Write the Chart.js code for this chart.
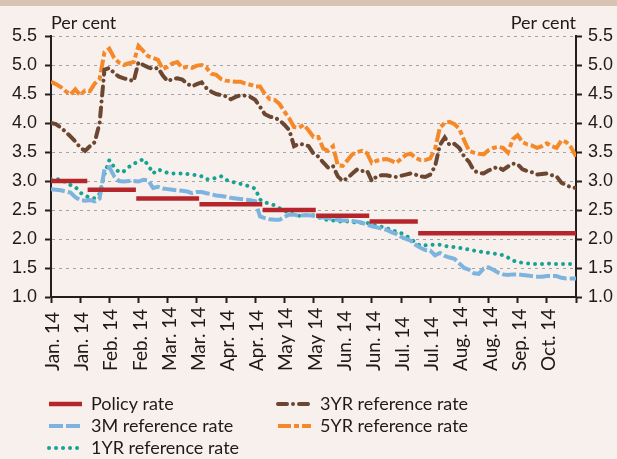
<!DOCTYPE html>
<html>
<head>
<meta charset="utf-8">
<script src="https://cdn.jsdelivr.net/npm/chart.js@4/dist/chart.umd.min.js"></script>
<style>
  html, body { margin: 0; padding: 0; background: #f7f0ec; }
  canvas { display: block; }
</style>
</head>
<body>
<canvas id="myChart" width="617" height="459"></canvas>
<script>
// six points per labelled interval, 19 tick marks
const tickLabels = ['Jan. 14', 'Jan. 14', 'Feb. 14', 'Feb. 14', 'Mar. 14', 'Mar. 14', 'Apr. 14', 'Apr. 14',
  'May 14', 'May 14', 'Jun. 14', 'Jun. 14', 'Jul. 14', 'Jul. 14', 'Aug. 14', 'Aug. 14', 'Sep. 14', 'Oct. 14'];

const policyRate = [
  3.00, 3.00, 3.00, 3.00, 3.00, 3.00, 3.00, 3.00,
  2.85, 2.85, 2.85, 2.85, 2.85, 2.85, 2.85, 2.85, 2.85, 2.85,
  2.70, 2.70, 2.70, 2.70, 2.70, 2.70, 2.70, 2.70, 2.70, 2.70, 2.70, 2.70, 2.70,
  2.60, 2.60, 2.60, 2.60, 2.60, 2.60, 2.60, 2.60, 2.60, 2.60, 2.60, 2.60, 2.60,
  2.50, 2.50, 2.50, 2.50, 2.50, 2.50, 2.50, 2.50, 2.50, 2.50, 2.50,
  2.40, 2.40, 2.40, 2.40, 2.40, 2.40, 2.40, 2.40, 2.40, 2.40, 2.40,
  2.30, 2.30, 2.30, 2.30, 2.30, 2.30, 2.30, 2.30, 2.30, 2.30,
  2.10, 2.10, 2.10, 2.10, 2.10, 2.10, 2.10, 2.10, 2.10, 2.10, 2.10, 2.10, 2.10, 2.10, 2.10, 2.10, 2.10,
  2.10, 2.10, 2.10, 2.10, 2.10, 2.10, 2.10, 2.10, 2.10, 2.10, 2.10, 2.10, 2.10, 2.10, 2.10, 2.10
];

const rate3M = [
  2.86, 2.85, 2.84, 2.82, 2.80, 2.72, 2.67, 2.66, 2.67, 2.65,
  2.70, 3.20, 3.24, 3.08, 3.00, 2.99, 3.00, 3.00, 2.99, 3.02,
  3.01, 2.88, 2.90, 2.87, 2.86, 2.85, 2.84, 2.83, 2.82, 2.79,
  2.81, 2.81, 2.79, 2.77, 2.75, 2.74, 2.73, 2.71, 2.70, 2.69,
  2.68, 2.67, 2.65, 2.39, 2.36, 2.34, 2.33, 2.33, 2.38, 2.42,
  2.42, 2.40, 2.41, 2.41, 2.40, 2.38, 2.37, 2.36, 2.34, 2.33,
  2.32, 2.32, 2.31, 2.30, 2.28, 2.25, 2.22, 2.20, 2.18, 2.16,
  2.12, 2.09, 2.04, 2.00, 1.97, 1.90, 1.85, 1.81, 1.80, 1.72,
  1.76, 1.71, 1.68, 1.66, 1.58, 1.50, 1.47, 1.41, 1.40, 1.49,
  1.51, 1.47, 1.42, 1.39, 1.38, 1.39, 1.39, 1.38, 1.37, 1.36,
  1.35, 1.35, 1.36, 1.36, 1.36, 1.33, 1.32, 1.32, 1.32
];

const rate1Y = [
  3.03, 3.03, 3.03, 2.98, 2.93, 2.90, 2.80, 2.75, 2.71, 2.70,
  2.78, 3.12, 3.36, 3.24, 3.15, 3.17, 3.24, 3.30, 3.33, 3.38,
  3.27, 3.13, 3.20, 3.17, 3.14, 3.13, 3.13, 3.13, 3.12, 3.11,
  3.10, 3.08, 3.03, 3.04, 3.05, 3.08, 3.02, 2.99, 2.97, 2.95,
  2.93, 2.90, 2.87, 2.68, 2.63, 2.61, 2.58, 2.53, 2.49, 2.45,
  2.42, 2.40, 2.41, 2.41, 2.41, 2.38, 2.34, 2.33, 2.32, 2.30,
  2.30, 2.30, 2.29, 2.28, 2.28, 2.28, 2.25, 2.23, 2.21, 2.19,
  2.15, 2.13, 2.10, 2.06, 2.00, 1.94, 1.88, 1.89, 1.90, 1.90,
  1.90, 1.88, 1.87, 1.86, 1.85, 1.83, 1.82, 1.80, 1.79, 1.77,
  1.76, 1.75, 1.74, 1.72, 1.68, 1.63, 1.60, 1.59, 1.58, 1.57,
  1.57, 1.57, 1.58, 1.57, 1.57, 1.57, 1.57, 1.57, 1.57
];

const rate3Y = [
  4.00, 3.98, 3.92, 3.85, 3.77, 3.68, 3.58, 3.52, 3.60, 3.67,
  4.00, 4.92, 4.95, 4.86, 4.80, 4.77, 4.75, 4.72, 5.05, 5.00,
  4.96, 4.93, 4.95, 4.82, 4.72, 4.76, 4.77, 4.75, 4.68, 4.63,
  4.67, 4.70, 4.60, 4.54, 4.50, 4.48, 4.46, 4.41, 4.45, 4.48,
  4.47, 4.45, 4.40, 4.28, 4.15, 4.11, 4.09, 4.05, 3.97, 3.88,
  3.60, 3.64, 3.63, 3.60, 3.47, 3.42, 3.32, 3.23, 3.26, 3.08,
  3.00, 3.05, 3.13, 3.20, 3.17, 3.18, 3.00, 3.08, 3.10, 3.10,
  3.08, 3.07, 3.09, 3.11, 3.13, 3.11, 3.08, 3.07, 3.11, 3.25,
  3.62, 3.75, 3.62, 3.64, 3.57, 3.42, 3.33, 3.18, 3.14, 3.13,
  3.18, 3.22, 3.24, 3.19, 3.25, 3.30, 3.29, 3.20, 3.17, 3.15,
  3.11, 3.12, 3.13, 3.10, 3.08, 2.97, 2.93, 2.89, 2.88
];

const rate5Y = [
  4.71, 4.67, 4.62, 4.55, 4.49, 4.58, 4.48, 4.56, 4.55, 4.68,
  4.76, 5.22, 5.28, 5.12, 5.04, 5.00, 5.03, 5.05, 5.33, 5.24,
  5.15, 5.12, 5.09, 4.93, 4.97, 5.03, 5.05, 4.95, 4.97, 4.95,
  4.99, 5.00, 4.95, 4.85, 4.83, 4.76, 4.73, 4.72, 4.71, 4.71,
  4.68, 4.66, 4.63, 4.63, 4.50, 4.41, 4.40, 4.33, 4.20, 4.08,
  3.93, 3.92, 3.97, 3.87, 3.76, 3.76, 3.56, 3.52, 3.60, 3.27,
  3.26, 3.36, 3.46, 3.50, 3.52, 3.48, 3.31, 3.35, 3.37, 3.38,
  3.35, 3.31, 3.38, 3.45, 3.47, 3.40, 3.36, 3.36, 3.39, 3.55,
  3.92, 4.00, 4.02, 3.98, 3.90, 3.70, 3.52, 3.49, 3.47, 3.46,
  3.53, 3.57, 3.59, 3.57, 3.49, 3.72, 3.79, 3.67, 3.63, 3.61,
  3.57, 3.60, 3.65, 3.60, 3.57, 3.70, 3.67, 3.58, 3.42
];

const xIndex = policyRate.map((_, i) => i);

const ink = '#1e1a1a';
const axisColor = '#231f20';

// background, "Per cent" headers, bottom-aligned date labels and the two-column legend
const decor = {
  id: 'decor',
  beforeDraw(chart) {
    const c = chart.ctx;
    c.save();
    c.fillStyle = '#f7f0ec';
    c.fillRect(0, 0, chart.width, chart.height);
    c.fillStyle = '#d8c4b2';
    c.fillRect(0, 0, chart.width, 6);
    c.restore();
  },
  afterDraw(chart) {
    const c = chart.ctx;
    const area = chart.chartArea;
    const xs = chart.scales.x;
    c.save();
    c.fillStyle = ink;
    c.font = '18px Lato, sans-serif';
    c.textBaseline = 'alphabetic';
    c.textAlign = 'left';
    c.fillText('Per cent', area.left, 29);
    c.textAlign = 'right';
    c.fillText('Per cent', area.right, 29);

    c.font = '19px Lato, sans-serif';
    tickLabels.forEach((t, i) => {
      const x = xs.getPixelForValue(i * 6);
      c.save();
      c.translate(x + 2, 371);
      c.rotate(-Math.PI / 2);
      c.textAlign = 'left';
      c.textBaseline = 'middle';
      c.fillText(t, 0, 0);
      c.restore();
    });

    const cols = [49, 278];
    const rows = [404, 426, 448];
    c.font = '18px Lato, sans-serif';
    chart.data.datasets.forEach((ds, i) => {
      const x = cols[Math.floor(i / 3)];
      const y = rows[i % 3];
      c.save();
      c.strokeStyle = ds.borderColor;
      c.lineWidth = ds.borderWidth;
      c.setLineDash(ds.borderDash || []);
      c.lineCap = ds.borderCapStyle === 'round' ? 'round' : 'butt';
      c.beginPath();
      c.moveTo(x, y);
      c.lineTo(x + 33, y);
      c.stroke();
      c.restore();
      c.textAlign = 'left';
      c.textBaseline = 'middle';
      c.fillText(ds.label, x + 42, y);
    });
    c.restore();
  }
};

const yTicks = {
  stepSize: 0.5,
  color: ink,
  font: { size: 18 },
  callback: v => v.toFixed(1)
};

new Chart(document.getElementById('myChart'), {
  type: 'line',
  data: {
    labels: xIndex,
    datasets: [
      {
        label: 'Policy rate', data: policyRate, borderColor: '#b4262b', borderWidth: 4.5,
        borderCapStyle: 'square',
        segment: { borderColor: ctx => ctx.p0.parsed.y !== ctx.p1.parsed.y ? 'rgba(0,0,0,0)' : undefined }
      },
      { label: '3M reference rate', data: rate3M, borderColor: '#7db4df', borderWidth: 4, borderDash: [14, 3] },
      {
        label: '1YR reference rate', data: rate1Y, borderColor: '#17a394', borderWidth: 4,
        borderDash: [0.01, 7], borderCapStyle: 'round'
      },
      {
        label: '3YR reference rate', data: rate3Y, borderColor: '#6b4631', borderWidth: 4,
        borderDash: [9, 6, 0.01, 6], borderCapStyle: 'round'
      },
      { label: '5YR reference rate', data: rate5Y, borderColor: '#f5892a', borderWidth: 4, borderDash: [13, 3, 5, 3] }
    ]
  },
  options: {
    responsive: false,
    animation: false,
    devicePixelRatio: 1,
    layout: { padding: { top: 36, left: 0, right: 0, bottom: 0 } },
    plugins: { legend: { display: false }, tooltip: { enabled: false } },
    elements: { point: { radius: 0 }, line: { tension: 0 } },
    scales: {
      x: {
        type: 'linear', min: 0, max: 108,
        afterFit: s => { s.height = 162; },
        ticks: { display: false, stepSize: 6 },
        grid: { drawOnChartArea: false, tickLength: 6, tickColor: axisColor, tickWidth: 2 },
        border: { color: axisColor, width: 2 }
      },
      y: {
        position: 'left', min: 1, max: 5.5,
        afterFit: s => { s.width = 51; },
        ticks: Object.assign({ padding: 8 }, yTicks),
        grid: {
          color: ctx => (ctx.tick && ctx.tick.value === 1) ? 'rgba(0,0,0,0)' : '#a3a3a3',
          lineWidth: 1, tickLength: 6, tickColor: axisColor, tickWidth: 2, tickBorderDash: []
        },
        border: { color: axisColor, width: 2, dash: [3, 4] }
      },
      y2: {
        position: 'right', min: 1, max: 5.5,
        afterFit: s => { s.width = 41; },
        ticks: Object.assign({ padding: 6 }, yTicks),
        grid: { drawOnChartArea: false, tickLength: 6, tickColor: axisColor, tickWidth: 2 },
        border: { color: axisColor, width: 2 }
      }
    }
  },
  plugins: [decor]
});
</script>
</body>
</html>
